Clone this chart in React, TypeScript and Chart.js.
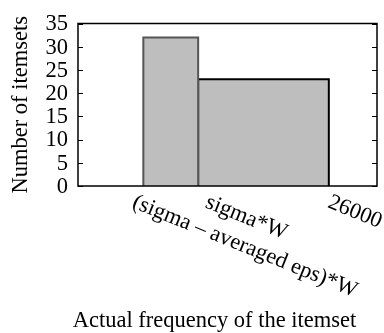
import React, { useEffect, useRef } from 'react';
import { Chart, registerables } from 'chart.js';

Chart.register(...registerables);

// ---- data ----
const binEdges = [9900, 14850, 26650];
const counts = [32, 23];
const barBorders = ['#555555', '#000000'];
const tickValues = [8350, 14950, 26000];
const tickLabels = ['(sigma \u2013 averaged eps)*W', 'sigma*W', '26000'];
const yTickValues = [0, 5, 10, 15, 20, 25, 30, 35];
const xTitle = 'Actual frequency of the itemset';
const yTitle = 'Number of itemsets';

const FONT_FAMILY = '"Liberation Serif", "Times New Roman", Times, serif';
const FONT_SIZE = 22.5;

const framePlugin = {
  id: 'framePlugin',
  afterDatasetsDraw(chart: any) {
    const { ctx, chartArea, scales } = chart;
    const { left, top, right, bottom } = chartArea;
    const x = scales.x;
    const y = scales.y;
    ctx.save();
    // frame
    ctx.strokeStyle = '#000';
    ctx.lineWidth = 1.5;
    ctx.strokeRect(left, top, right - left, bottom - top);
    // inward ticks on left and right
    ctx.lineWidth = 1;
    yTickValues.forEach((v) => {
      const py = Math.round(y.getPixelForValue(v)) + 0.5;
      ctx.beginPath();
      ctx.moveTo(left, py);
      ctx.lineTo(left + 5, py);
      ctx.moveTo(right - 5, py);
      ctx.lineTo(right, py);
      ctx.stroke();
    });
    // rotated x tick labels
    ctx.fillStyle = '#000';
    ctx.font = `${FONT_SIZE}px ${FONT_FAMILY}`;
    ctx.textAlign = 'left';
    ctx.textBaseline = 'alphabetic';
    tickValues.forEach((v, i) => {
      const px = x.getPixelForValue(v) + 5;
      ctx.save();
      ctx.translate(px, bottom + 21);
      ctx.rotate((22 * Math.PI) / 180);
      ctx.fillText(tickLabels[i], 0, 0);
      ctx.restore();
    });
    // x axis title
    ctx.textAlign = 'center';
    ctx.fillText(xTitle, (left + right) / 2 - 13, chart.height - 6);
    ctx.restore();
  },
};

export default function App() {
  const canvasRef = useRef<HTMLCanvasElement | null>(null);

  useEffect(() => {
    document.body.style.margin = '0';
    const canvas = canvasRef.current;
    if (!canvas) return;

    const datasets = counts.map((c, i) => ({
      label: `bin${i}`,
      data: [
        { x: binEdges[i], y: 0 },
        { x: binEdges[i], y: c },
        { x: binEdges[i + 1], y: c },
        { x: binEdges[i + 1], y: 0 },
      ],
      fill: 'origin',
      backgroundColor: '#bebebe',
      borderColor: barBorders[i],
      borderWidth: 2,
      pointRadius: 0,
      pointHoverRadius: 0,
      tension: 0,
    }));

    const font = { family: FONT_FAMILY, size: FONT_SIZE };

    const chart = new Chart(canvas, {
      type: 'line',
      data: { datasets: datasets as any },
      options: {
        animation: false,
        responsive: false,
        devicePixelRatio: 1,
        layout: { padding: { top: 15, right: 7, left: 0, bottom: 0 } },
        plugins: {
          legend: { display: false },
          tooltip: { enabled: false },
        },
        scales: {
          x: {
            type: 'linear',
            min: 4000,
            max: 31000,
            ticks: { display: false },
            grid: { display: false, drawTicks: false },
            border: { display: false },
            afterFit: (s: any) => {
              s.height = 147;
            },
          },
          y: {
            type: 'linear',
            min: 0,
            max: 35,
            afterBuildTicks: (s: any) => {
              s.ticks = yTickValues.map((v) => ({ value: v }));
            },
            ticks: { font, color: '#000', padding: 10, labelOffset: 1, autoSkip: false },
            grid: { display: false, drawTicks: false },
            border: { display: false },
            title: {
              display: true,
              text: yTitle,
              font,
              color: '#000',
              padding: { top: 8, bottom: 0 },
            },
            afterFit: (s: any) => {
              s.width = 78;
            },
          },
        },
      },
      plugins: [framePlugin],
    });

    return () => chart.destroy();
  }, []);

  return (
    <div style={{ width: 384, height: 333 }}>
      <canvas ref={canvasRef} width={384} height={333} />
    </div>
  );
}
